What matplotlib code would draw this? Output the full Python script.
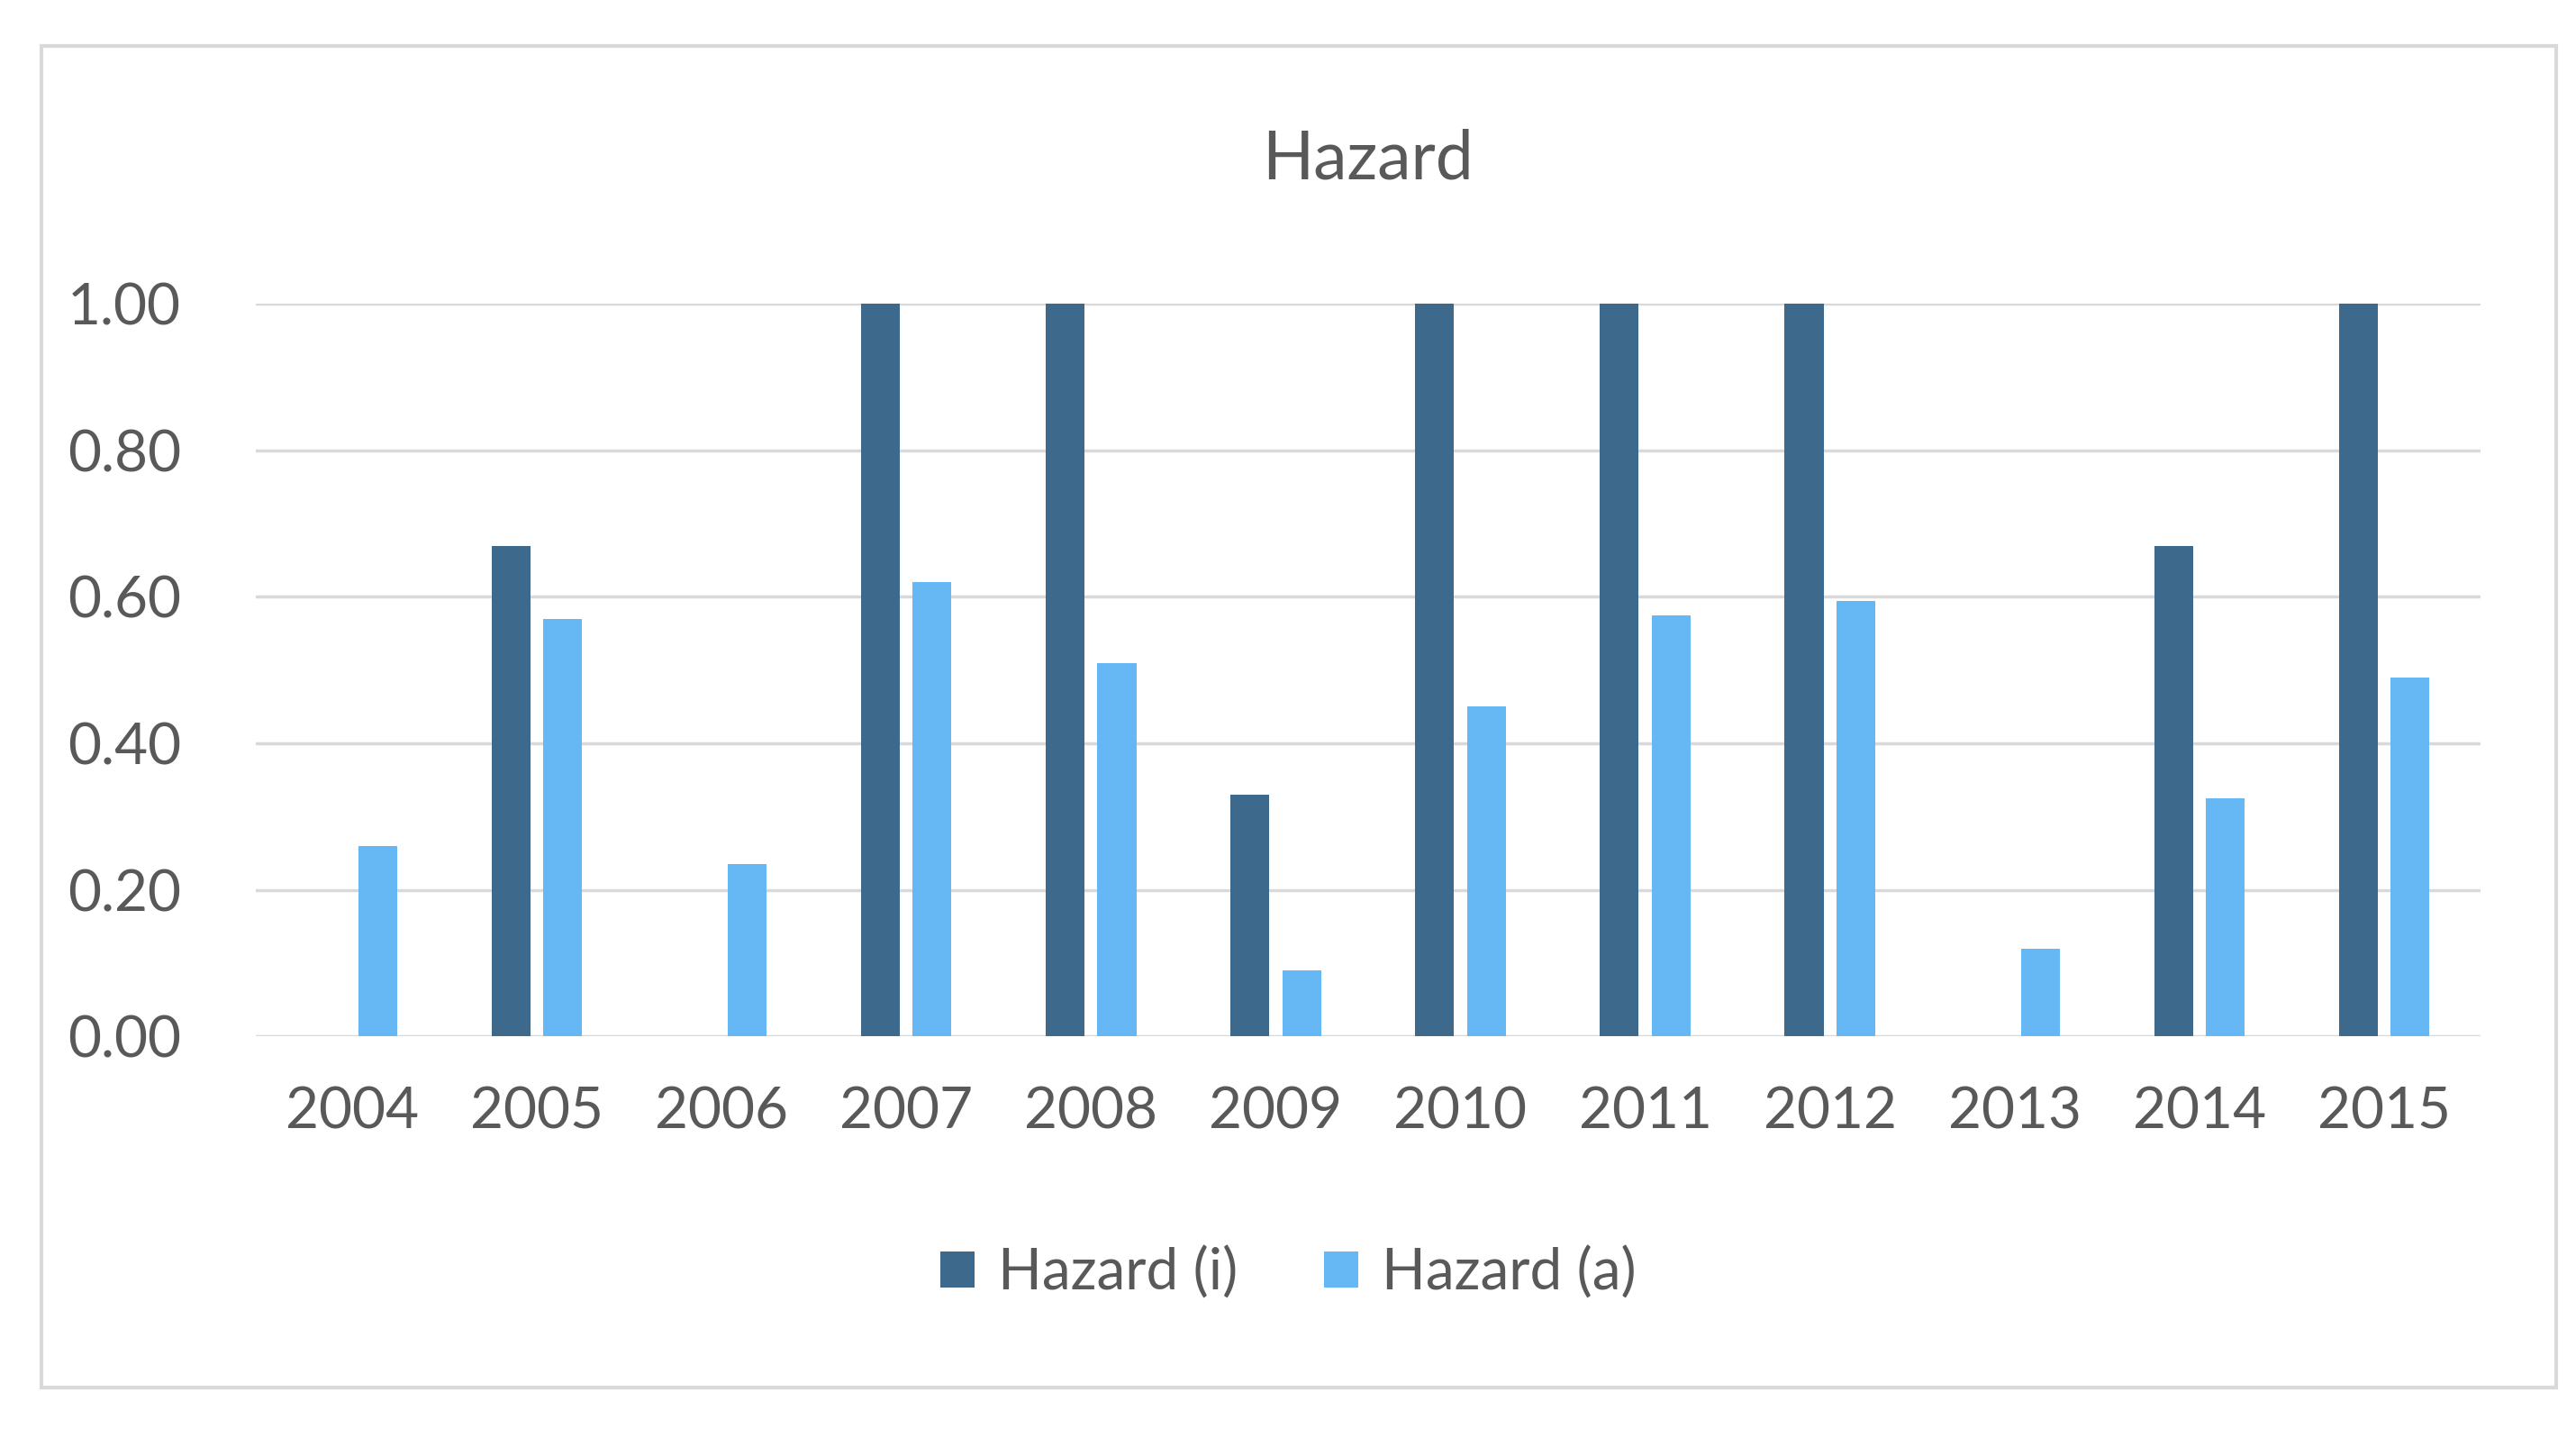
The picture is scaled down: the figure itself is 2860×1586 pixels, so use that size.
import matplotlib
matplotlib.use("Agg")
import matplotlib.pyplot as plt
import numpy as np
from matplotlib.patches import Rectangle

years = ["2004","2005","2006","2007","2008","2009","2010","2011","2012","2013","2014","2015"]
hazard_i = [0, 0.67, 0, 1, 1, 0.33, 1, 1, 1, 0, 0.67, 1]
hazard_a = [0.26, 0.57, 0.235, 0.62, 0.51, 0.09, 0.45, 0.575, 0.595, 0.12, 0.325, 0.49]

plt.rcParams['font.family'] = ['Lato', 'DejaVu Sans']
grey = '#595959'
fig = plt.figure(figsize=(28.6, 15.86), dpi=100)
fig.patches.append(Rectangle((25/1560, 1-845/870), 1523/1560, 817/870, transform=fig.transFigure,
                             fill=False, edgecolor='#d9d9d9', linewidth=3))
ax = fig.add_axes([155/1560, 1-631/870, 1347/1560, 446/870])
x = np.arange(len(years))
w = 0.21
ax.bar(x-0.14, hazard_i, w, color='#3d6a8c', label='Hazard (i)', zorder=3)
ax.bar(x+0.14, hazard_a, w, color='#66b8f5', label='Hazard (a)', zorder=3)
ax.set_ylim(0, 1.0)
ax.set_xlim(-0.52, 11.52)
ax.set_yticks(np.arange(0, 1.01, 0.2))
ax.set_yticklabels([f"{v:.2f}" for v in np.arange(0, 1.01, 0.2)])
ax.set_xticks(x)
ax.set_xticklabels(years)
ax.grid(axis='y', color='#d9d9d9', linewidth=2.5, zorder=0)
for s in ax.spines.values():
    s.set_visible(False)
ax.tick_params(length=0, labelsize=46, labelcolor=grey, pad=40)
ax.tick_params(axis='y', pad=60)
ax.set_title("Hazard", fontsize=54, color=grey, pad=100)
fig.legend(loc='center', bbox_to_anchor=(0.5, 1-775/870), ncol=2, frameon=False,
           fontsize=46, labelcolor=grey, handlelength=0.6, handleheight=0.6, columnspacing=1.5, handletextpad=0.4)
fig.savefig("out.png", dpi=100)
